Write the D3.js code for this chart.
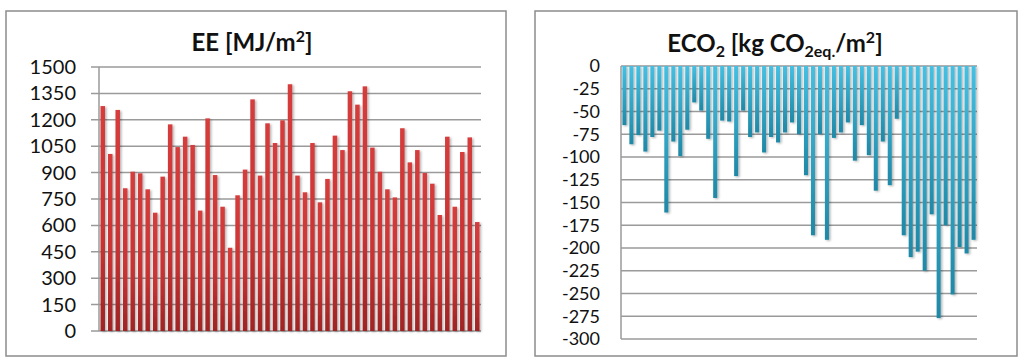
<!DOCTYPE html>
<html>
<head>
<meta charset="utf-8">
<script src="https://cdn.jsdelivr.net/npm/d3@7"></script>
<style>
  body { margin: 0; background: #fff; }
  svg { display: block; font-family: Lato, 'Open Sans', sans-serif; }
</style>
</head>
<body>
<svg id="chart" width="1024" height="363"></svg>
<script>
// 51 buildings, same order in both panels
var buildings = d3.range(1, 52);

var eeValues = [1278, 1006, 1256, 811, 905, 896, 805, 672, 877, 1174,
    1045, 1104, 1057, 684, 1208, 886, 706, 473, 771, 917,
    1316, 883, 1180, 1068, 1197, 1402, 883, 788, 1068, 731,
    864, 1110, 1028, 1362, 1286, 1390, 1042, 905, 805, 759,
    1152, 958, 1028, 898, 837, 659, 1104, 706, 1017, 1100, 619];

var eco2Values = [-65, -86, -76, -94, -78, -71, -161, -83, -99, -70,
    -40, -49, -80, -145, -60, -61, -121, -49, -78, -73,
    -95, -78, -84, -73, -62, -75, -120, -186, -75, -191,
    -79, -73, -62, -104, -65, -98, -137, -83, -131, -58,
    -186, -210, -204, -225, -163, -277, -175, -251, -199, -206, -191];

var eeTicks = [0, 150, 300, 450, 600, 750, 900, 1050, 1200, 1350, 1500];
var eco2Ticks = [0, -25, -50, -75, -100, -125, -150, -175, -200, -225, -250, -275, -300];

var svg = d3.select('#chart');
var defs = svg.append('defs');

var redGrad = defs.append('linearGradient')
    .attr('id', 'redGrad')
    .attr('x1', 0).attr('y1', 0).attr('x2', 0).attr('y2', 1);
redGrad.append('stop').attr('offset', '0%').attr('stop-color', '#d63c3c');
redGrad.append('stop').attr('offset', '60%').attr('stop-color', '#c83333');
redGrad.append('stop').attr('offset', '100%').attr('stop-color', '#9e2424');

var blueGrad = defs.append('linearGradient')
    .attr('id', 'blueGrad')
    .attr('x1', 0).attr('y1', 0).attr('x2', 0).attr('y2', 1);
blueGrad.append('stop').attr('offset', '0%').attr('stop-color', '#45c0e2');
blueGrad.append('stop').attr('offset', '100%').attr('stop-color', '#1f88a6');

var shadow = defs.append('filter')
    .attr('id', 'shadow')
    .attr('x', '-50%').attr('y', '-5%').attr('width', '250%').attr('height', '115%');
shadow.append('feDropShadow')
    .attr('dx', 1.5).attr('dy', 1)
    .attr('stdDeviation', 1.2)
    .attr('flood-color', '#000')
    .attr('flood-opacity', 0.3);

// panel frames
svg.append('rect')
    .attr('x', 6).attr('y', 11).attr('width', 500).attr('height', 345)
    .attr('fill', 'none').attr('stroke', '#8c8c8c').attr('stroke-width', 1.5);
svg.append('rect')
    .attr('x', 535).attr('y', 11).attr('width', 482).attr('height', 345)
    .attr('fill', 'none').attr('stroke', '#8c8c8c').attr('stroke-width', 1.5);

// ---- left panel: EE
var left = {x0: 99, x1: 481, y0: 67, y1: 331};

var xL = d3.scaleBand()
    .domain(buildings)
    .range([left.x0, left.x1])
    .paddingInner(0.4)
    .paddingOuter(0.2);

var yL = d3.scaleLinear()
    .domain([0, 1500])
    .range([left.y1, left.y0]);

var gL = svg.append('g');

gL.append('g')
    .attr('class', 'grid')
    .selectAll('line')
    .data(eeTicks)
    .enter().append('line')
    .attr('x1', left.x0 - 8)
    .attr('x2', left.x1)
    .attr('y1', function(d) { return yL(d); })
    .attr('y2', function(d) { return yL(d); })
    .attr('stroke', '#9a9a9a')
    .attr('stroke-width', 1.5);

gL.append('line')
    .attr('x1', left.x0).attr('x2', left.x0)
    .attr('y1', left.y0).attr('y2', left.y1)
    .attr('stroke', '#9a9a9a').attr('stroke-width', 1.5);

gL.append('g')
    .selectAll('rect')
    .data(eeValues)
    .enter().append('rect')
    .attr('x', function(d, i) { return xL(buildings[i]); })
    .attr('y', function(d) { return yL(d); })
    .attr('width', xL.bandwidth())
    .attr('height', function(d) { return yL(0) - yL(d); })
    .attr('fill', 'url(#redGrad)')
    .attr('filter', 'url(#shadow)');

gL.append('g')
    .attr('transform', 'translate(' + (left.x0 - 23) + ',0)')
    .call(d3.axisLeft(yL).tickValues(eeTicks).tickSize(0).tickPadding(0)
        .tickFormat(function(d) { return String(d); }))
    .call(function(g) { g.select('.domain').remove(); })
    .selectAll('text')
    .attr('font-family', 'Lato, sans-serif')
    .attr('font-size', 20)
    .attr('fill', '#111');

var titleL = svg.append('text')
    .attr('x', 252)
    .attr('y', 51)
    .attr('text-anchor', 'middle')
    .attr('font-size', 24)
    .attr('font-weight', 'bold')
    .attr('fill', '#111');
titleL.append('tspan').text('EE [MJ/m');
titleL.append('tspan').attr('font-size', 16).attr('dy', -9).text('2');
titleL.append('tspan').attr('dy', 9).text(']');

// ---- right panel: ECO2
var right = {x0: 621, x1: 977, y0: 66, y1: 339};

var xR = d3.scaleBand()
    .domain(buildings)
    .range([right.x0, right.x1])
    .paddingInner(0.42)
    .paddingOuter(0.2);

var yR = d3.scaleLinear()
    .domain([-300, 0])
    .range([right.y1, right.y0]);

var gR = svg.append('g');

gR.append('g')
    .attr('class', 'grid')
    .selectAll('line')
    .data(eco2Ticks)
    .enter().append('line')
    .attr('x1', right.x0)
    .attr('x2', right.x1)
    .attr('y1', function(d) { return yR(d); })
    .attr('y2', function(d) { return yR(d); })
    .attr('stroke', '#9a9a9a')
    .attr('stroke-width', 1.5);

gR.append('line')
    .attr('x1', right.x0).attr('x2', right.x0)
    .attr('y1', right.y0).attr('y2', right.y1)
    .attr('stroke', '#9a9a9a').attr('stroke-width', 1.5);

gR.append('g')
    .selectAll('rect')
    .data(eco2Values)
    .enter().append('rect')
    .attr('x', function(d, i) { return xR(buildings[i]); })
    .attr('y', yR(0))
    .attr('width', xR.bandwidth())
    .attr('height', function(d) { return yR(d) - yR(0); })
    .attr('fill', 'url(#blueGrad)')
    .attr('filter', 'url(#shadow)');

gR.append('g')
    .attr('transform', 'translate(' + (right.x0 - 21) + ',0)')
    .call(d3.axisLeft(yR).tickValues(eco2Ticks).tickSize(0).tickPadding(0)
        .tickFormat(function(d) { return d < 0 ? '-' + Math.abs(d) : String(d); }))
    .call(function(g) { g.select('.domain').remove(); })
    .selectAll('text')
    .attr('font-family', 'Lato, sans-serif')
    .attr('font-size', 18)
    .attr('fill', '#111');

var titleR = svg.append('text')
    .attr('x', 775)
    .attr('y', 52)
    .attr('text-anchor', 'middle')
    .attr('font-size', 24)
    .attr('font-weight', 'bold')
    .attr('fill', '#111');
titleR.append('tspan').text('ECO');
titleR.append('tspan').attr('font-size', 16).attr('dy', 5).text('2');
titleR.append('tspan').attr('dy', -5).text(' [kg CO');
titleR.append('tspan').attr('font-size', 16).attr('dy', 5).text('2eq.');
titleR.append('tspan').attr('dy', -5).text('/m');
titleR.append('tspan').attr('font-size', 16).attr('dy', -9).text('2');
titleR.append('tspan').attr('dy', 9).text(']');
</script>
</body>
</html>
